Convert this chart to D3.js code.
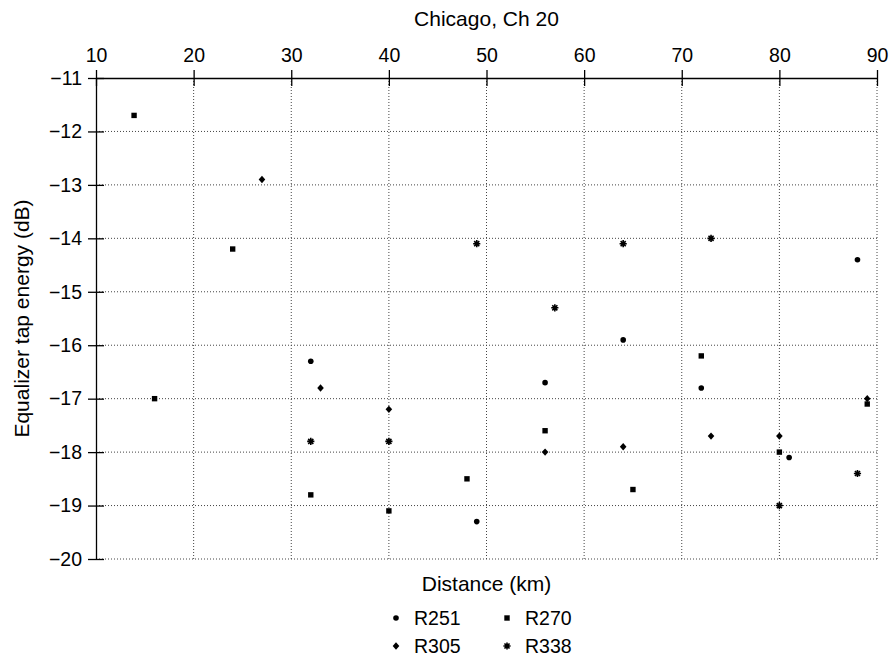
<!DOCTYPE html>
<html>
<head>
<meta charset="utf-8">
<script src="https://cdn.jsdelivr.net/npm/d3@7"></script>
<style>
  html, body { margin: 0; padding: 0; background: #fff; }
  svg { display: block; }
  text { font-family: "Liberation Sans", Arial, Helvetica, sans-serif; fill: #000; }
</style>
</head>
<body>
<svg id="chart" width="894" height="659"></svg>
<script>
// ---- data ----
const xTicks = [10, 20, 30, 40, 50, 60, 70, 80, 90];
const yTicks = [-11, -12, -13, -14, -15, -16, -17, -18, -19, -20];

const r251X = [32, 49, 56, 64, 72, 81, 88];
const r251Y = [-16.3, -19.3, -16.7, -15.9, -16.8, -18.1, -14.4];

const r270X = [13.9, 16, 24, 32, 40, 48, 56, 65, 72, 80, 89];
const r270Y = [-11.7, -17.0, -14.2, -18.8, -19.1, -18.5, -17.6, -18.7, -16.2, -18.0, -17.1];

const r305X = [27, 33, 40, 56, 64, 73, 80, 89];
const r305Y = [-12.9, -16.8, -17.2, -18.0, -17.9, -17.7, -17.7, -17.0];

const r338X = [32, 40, 49, 57, 64, 73, 80, 88];
const r338Y = [-17.8, -17.8, -14.1, -15.3, -14.1, -14.0, -19.0, -18.4];

const seriesNames = ["R251", "R270", "R305", "R338"];
const title = "Chicago, Ch 20";
const xLabel = "Distance (km)";
const yLabel = "Equalizer tap energy (dB)";

// ---- layout ----
const svg = d3.select("#chart");
const L = 96, R = 877, T = 78, B = 559;
const x = d3.scaleLinear().domain([10, 90]).range([L, R]);
const y = d3.scaleLinear().domain([-11, -20]).range([T, B]);
const fs = 19.5, fsT = 21;

// markers
const markerPath = {
  circle: () => d3.symbol().type(d3.symbolCircle).size(Math.PI * 2.8 * 2.8)(),
  square: () => "M-2.7,-2.7H2.7V2.7H-2.7Z",
  diamond: () => "M0,-3.7L3.3,0L0,3.7L-3.3,0Z",
  star: () => {
    const r = 3.6, a = r * Math.SQRT1_2;
    return `M0,${-r}V${r}M${-r},0H${r}M${-a},${-a}L${a},${a}M${-a},${a}L${a},${-a}`;
  }
};
function drawMarker(g, type, cx, cy) {
  const p = g.append("path")
    .attr("d", markerPath[type]())
    .attr("transform", `translate(${cx},${cy})`);
  if (type === "star") p.attr("fill", "none").attr("stroke", "#000").attr("stroke-width", 1.6);
  else p.attr("fill", "#000");
}

// grid
const grid = svg.append("g").attr("stroke", "#444").attr("stroke-width", 1).attr("stroke-dasharray", "1,2");
xTicks.filter(v => v !== 10).forEach(v => {
  grid.append("line").attr("x1", x(v)).attr("x2", x(v)).attr("y1", T).attr("y2", B);
});
yTicks.filter(v => v !== -11).forEach(v => {
  grid.append("line").attr("x1", L).attr("x2", R).attr("y1", y(v)).attr("y2", y(v));
});

// top axis
const topAxis = svg.append("g").attr("transform", `translate(0,${T})`)
  .call(d3.axisTop(x).tickValues(xTicks).tickSizeInner(8).tickSizeOuter(0).tickPadding(8));
topAxis.select(".domain").attr("stroke-width", 1.3);
topAxis.selectAll(".tick line").attr("y2", 8).attr("y1", -8).attr("stroke-width", 1.3);
topAxis.selectAll(".tick text").attr("font-size", fs).attr("font-family", "Liberation Sans, Arial, sans-serif").attr("dy", "0em").attr("y", -16);

// left axis
const leftAxis = svg.append("g").attr("transform", `translate(${L},0)`)
  .call(d3.axisLeft(y).tickValues(yTicks).tickSizeOuter(0).tickSizeInner(8).tickPadding(8)
    .tickFormat(d => d3.format("d")(d).replace("-", "\u2212")));
leftAxis.select(".domain").attr("stroke-width", 1.3);
leftAxis.selectAll(".tick line").attr("x1", 8).attr("x2", -8).attr("stroke-width", 1.3);
leftAxis.selectAll(".tick text").attr("font-size", fs).attr("font-family", "Liberation Sans, Arial, sans-serif").attr("x", -14);

// title & labels
svg.append("text").attr("x", (L + R) / 2).attr("y", 26).attr("text-anchor", "middle").attr("font-size", fsT).text(title);
svg.append("text").attr("x", (L + R) / 2).attr("y", 591).attr("text-anchor", "middle").attr("font-size", fsT).text(xLabel);
svg.append("text").attr("transform", `translate(29,${(T + B) / 2}) rotate(-90)`).attr("text-anchor", "middle").attr("font-size", fsT).text(yLabel);

// points
const pts = svg.append("g");
const series = [
  { xs: r251X, ys: r251Y, m: "circle" },
  { xs: r270X, ys: r270Y, m: "square" },
  { xs: r305X, ys: r305Y, m: "diamond" },
  { xs: r338X, ys: r338Y, m: "star" }
];
series.forEach(s => s.xs.forEach((v, i) => drawMarker(pts, s.m, x(v), y(s.ys[i]))));

// legend
const leg = svg.append("g");
const legPos = [[396, 618], [507, 618], [396, 646], [507, 646]];
series.forEach((s, i) => {
  const [lx, ly] = legPos[i];
  drawMarker(leg, s.m, lx, ly);
  leg.append("text").attr("x", lx + 18).attr("y", ly).attr("dy", "0.35em").attr("font-size", fs).text(seriesNames[i]);
});
</script>
</body>
</html>
